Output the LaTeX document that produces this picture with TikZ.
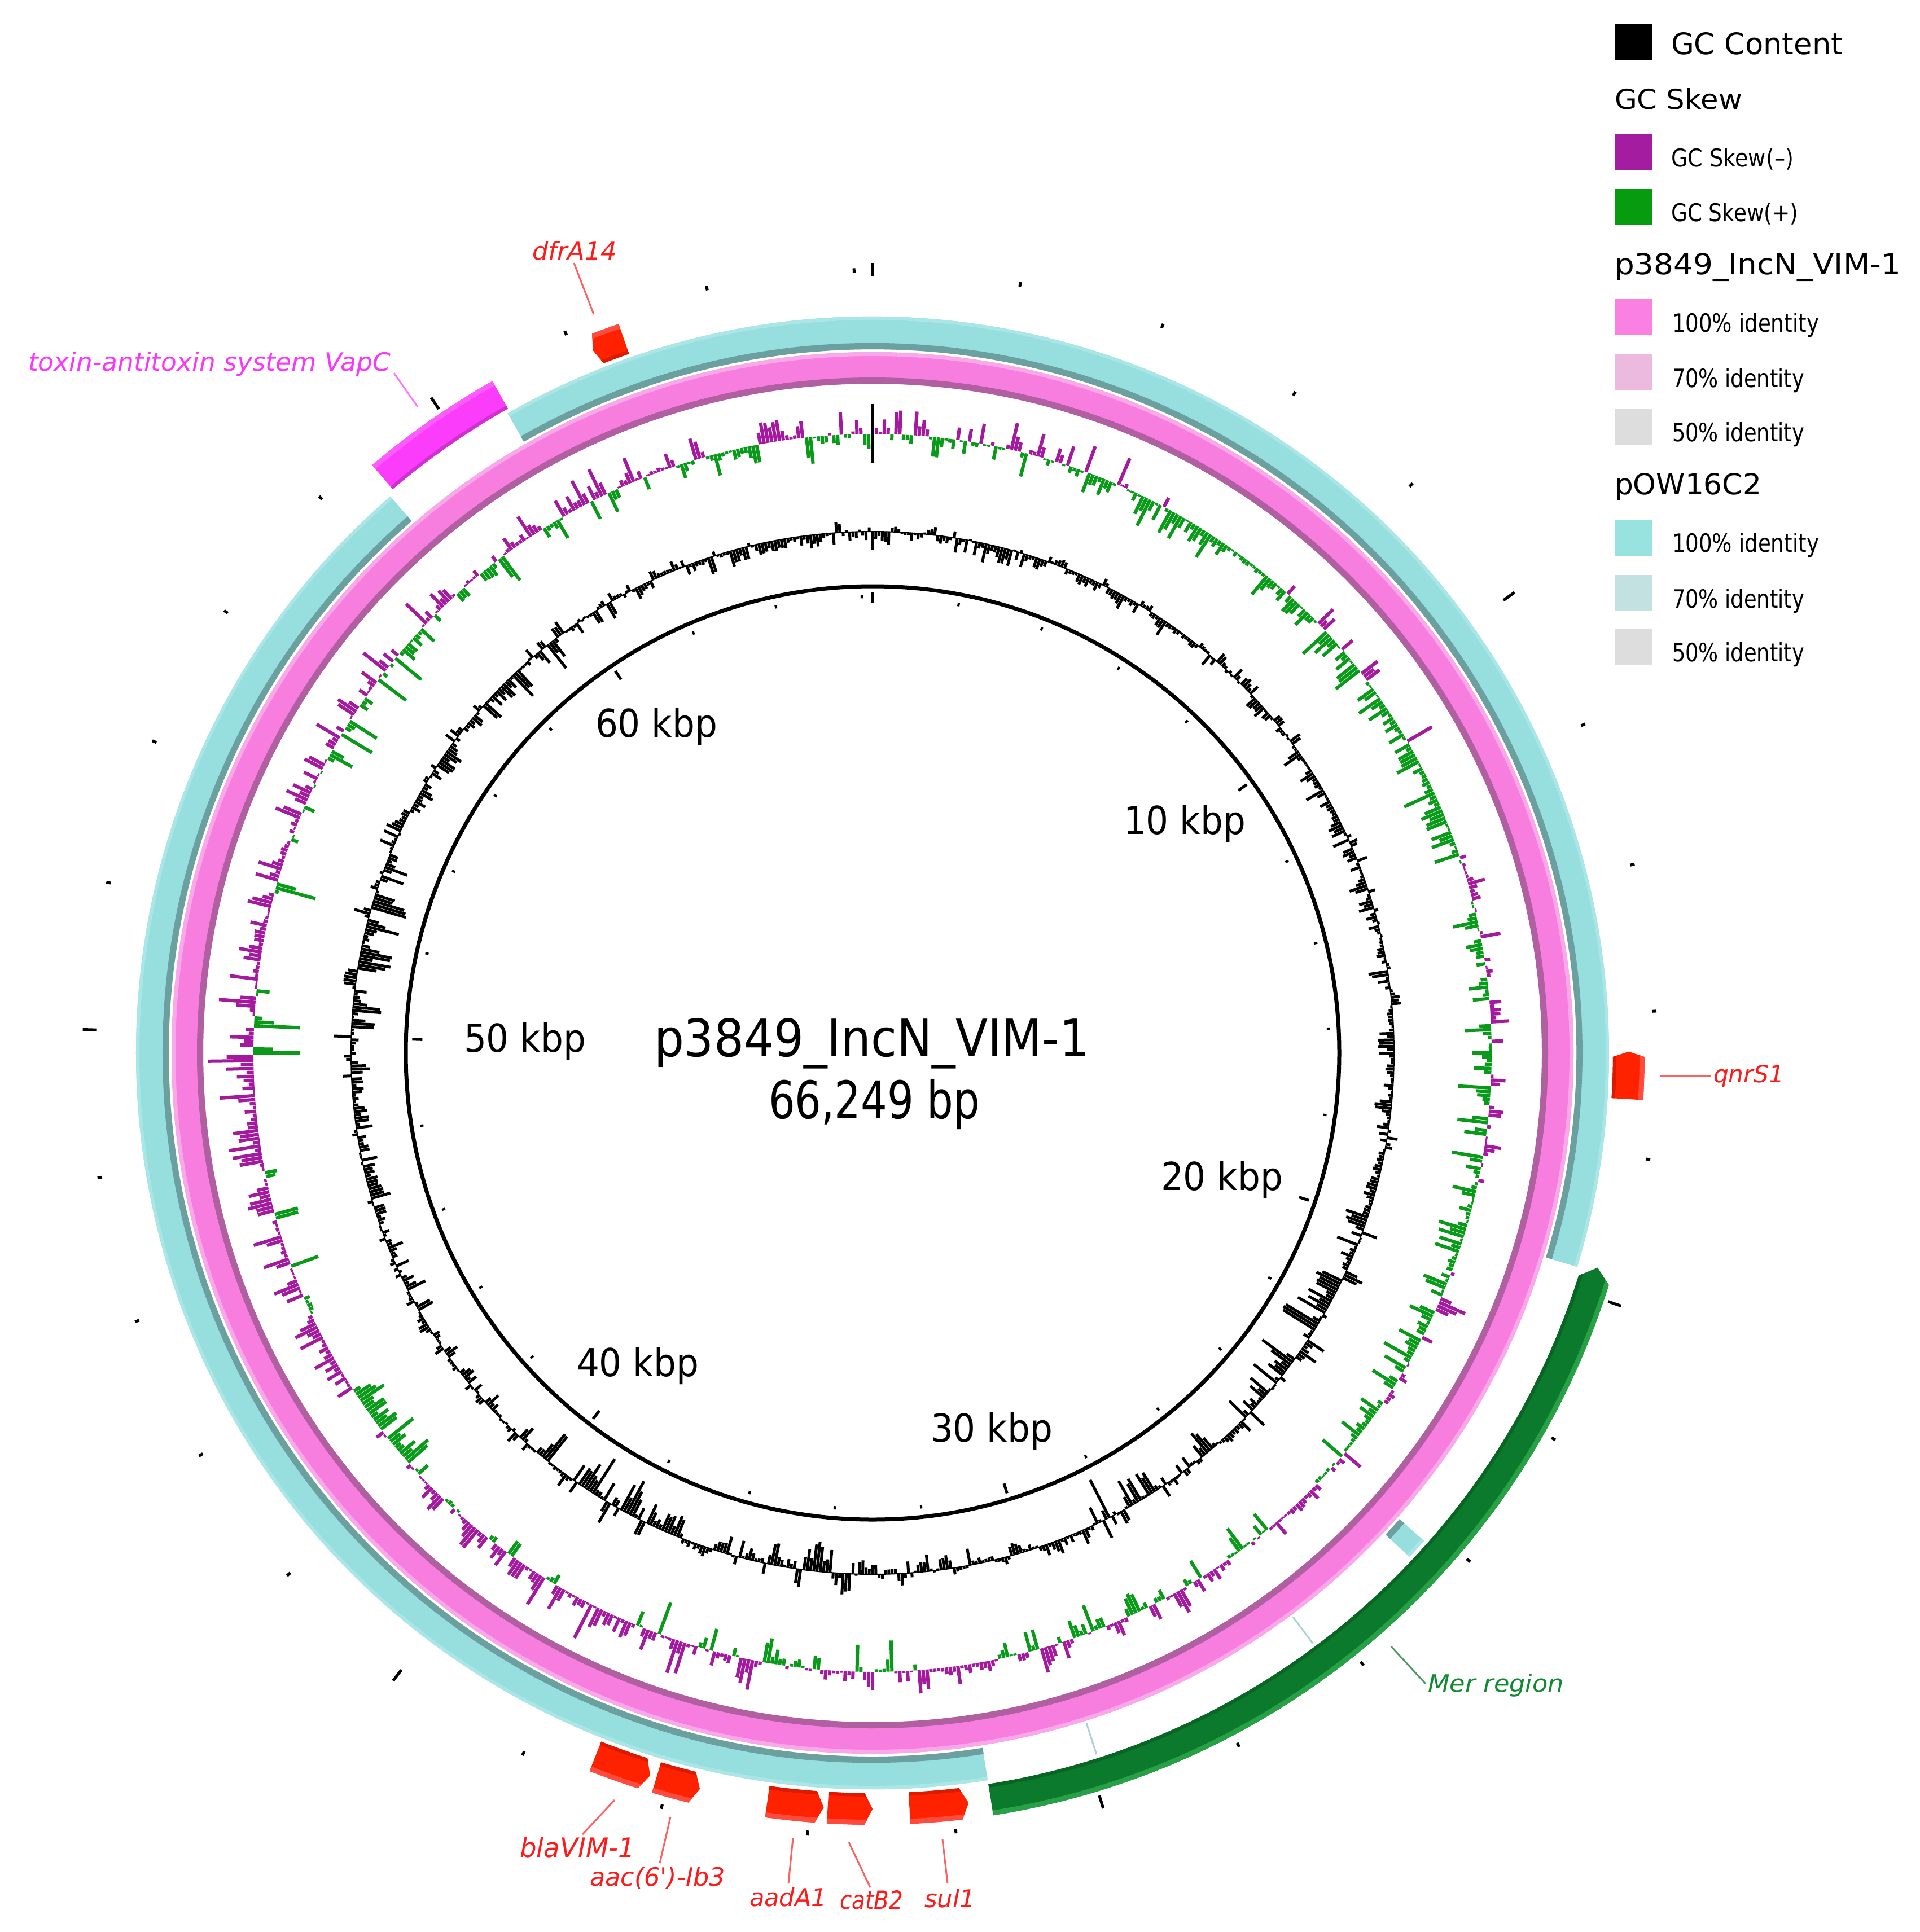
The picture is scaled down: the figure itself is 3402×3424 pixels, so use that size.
\documentclass[tikz,border=0pt]{standalone}
\usepackage{fontspec}
\setmainfont{DejaVu Sans}
\usepackage{graphicx}
\definecolor{cyanM}{HTML}{97DFDF}
\definecolor{cyanD}{HTML}{6C9FA0}
\definecolor{cyanL}{HTML}{ABE6E6}
\definecolor{cyanThin}{HTML}{A9D3D3}
\definecolor{pinkM}{HTML}{F77EDF}
\definecolor{pinkD}{HTML}{B05FA0}
\definecolor{pinkL}{HTML}{F9A8EA}
\definecolor{skewMag}{HTML}{A31A9E}
\definecolor{skewGrn}{HTML}{0A9A1A}
\definecolor{geneR}{HTML}{FF2200}
\definecolor{geneRL}{HTML}{FF4B3E}
\definecolor{geneRD}{HTML}{DD1A00}
\definecolor{merG}{HTML}{0B7A2C}
\definecolor{merGL}{HTML}{27A046}
\definecolor{merGD}{HTML}{086624}
\definecolor{toxM}{HTML}{FB3CFB}
\definecolor{toxML}{HTML}{FF5CFF}
\definecolor{toxMD}{HTML}{D030D0}
\definecolor{lblRed}{HTML}{FF1A1A}
\definecolor{lineRed}{HTML}{FF6060}
\definecolor{lblMag}{HTML}{FF33FF}
\definecolor{lineMag}{HTML}{FF77FF}
\definecolor{lblGrn}{HTML}{0E8A30}
\definecolor{lineGrn}{HTML}{4E9A66}
\definecolor{legMag}{HTML}{A41C9F}
\definecolor{legGrn}{HTML}{079B10}
\definecolor{legPink}{HTML}{FA80E1}
\definecolor{legPinkL}{HTML}{EDBADF}
\definecolor{legGray}{HTML}{DDDDDD}
\definecolor{legCyan}{HTML}{98E2E0}
\definecolor{legCyanL}{HTML}{C3E1E0}

\newcommand\fitt[3]{\resizebox{#1pt}{#2pt}{#3}}

% band between radii #1 (inner) and #2 (outer), clockwise angles #3 -> #4 from top
\newcommand\arcband[5]{%
  \fill[#5] ({90-(#3)}:#2pt) arc[start angle={90-(#3)}, end angle={90-(#4)}, radius=#2pt]
    -- ({90-(#4)}:#1pt) arc[start angle={90-(#4)}, end angle={90-(#3)}, radius=#1pt] -- cycle;}

\newcommand\cyanseg[2]{%
  \arcband{1247}{1305}{#1}{#2}{cyanM}%
  \arcband{1247}{1258}{#1}{#2}{cyanD}%
  \arcband{1299}{1305}{#1}{#2}{cyanL}}

% gene arrow: #1 tip angle (cw), #2 tail angle (cw), #3 tip length (deg), #4 main, #5 light, #6 dark
\newcommand\genebox[6]{%
  \begin{scope}
    \clip ({90-(#2)}:1312pt) -- ({90-(#2)}:1368pt)
      arc[start angle={90-(#2)}, end angle={90-(#1)-(#3)}, radius=1368pt]
      -- ({90-(#1)}:1340pt) -- ({90-(#1)-(#3)}:1312pt)
      arc[start angle={90-(#1)-(#3)}, end angle={90-(#2)}, radius=1312pt] -- cycle;
    \fill[#4] (0,0) circle[radius=1400pt];
    \fill[#5, even odd rule] (0,0) circle[radius=1400pt] circle[radius=1359pt];
    \fill[#6, even odd rule] (0,0) circle[radius=1318pt] circle[radius=1300pt];
  \end{scope}}

\begin{document}
\begin{tikzpicture}[x=1pt,y=1pt,
  lbl/.style={anchor=base west, inner sep=0pt, outer sep=0pt},
  legsq/.style={minimum width=66pt, minimum height=64pt, inner sep=0pt, draw=none},
  leader/.style={line width=3pt},
  skewmag/.style={skewMag, line width=6pt},
  skewgrn/.style={skewGrn, line width=6pt},
  gcbar/.style={black, line width=5pt},
  tickmark/.style={black, line width=5pt}]

\useasboundingbox (0,0) rectangle (3402,-3424);
\fill[white] (0,0) rectangle (3402,-3424);

\begin{scope}[shift={(1546,-1866)}]
  % ---------- GC content ----------
  \pgfmathsetseed{11}
  \draw[black, line width=2pt] (0,0) circle[radius=924pt];
  \gdef\gsgn{1}\gdef\gh{0}
  \foreach \i in {0,...,999}{%
    \pgfmathsetmacro\tq{\i*0.36}%
    \pgfmathsetmacro\tang{90-\tq}%
    \pgfmathsetmacro\amp{32+55*max(0,1-abs((\tq-125)/20))+45*max(0,1-abs((\tq-152)/9))+40*max(0,1-abs((\tq-183)/10))+50*max(0,1-abs((\tq-212)/13))+45*max(0,1-abs((\tq-282)/20))+35*max(0,1-abs((\tq-318)/8))}%
    \pgfmathsetmacro\ru{rnd}%
    \pgfmathsetmacro\rv{rnd}%
    \pgfmathsetmacro\rw{rnd}%
    \ifdim\rw pt<0.5pt
      \ifdim\ru pt<0.68pt \xdef\gsgn{-1}\else\xdef\gsgn{1}\fi
      \pgfmathsetmacro\hh{\amp*\rv^2}%
    \else
      \pgfmathsetmacro\hh{0.35*\gh+0.65*\amp*\rv^2}%
    \fi
    \xdef\gh{\hh}%
    \ifnum\gsgn<0
      \pgfmathsetmacro\rad{921-\hh}%
    \else
      \pgfmathsetmacro\rad{927+0.55*\hh}%
    \fi
    \draw[gcbar] (\tang:924pt) -- (\tang:\rad pt);
  }
  % ---------- GC skew ----------
  \gdef\gsgn{1}\gdef\gh{0}
  \foreach \i in {0,...,999}{%
    \pgfmathsetmacro\tq{\i*0.36}%
    \pgfmathsetmacro\tang{90-\tq}%
    \pgfmathsetmacro\pmag{0.5+0.25*cos(\tq-235)}%
    \pgfmathsetmacro\amp{50+35*max(0,1-abs((\tq-270)/40))+30*max(0,1-abs((\tq-200)/30))}%
    \pgfmathsetmacro\ru{rnd}%
    \pgfmathsetmacro\rv{rnd}%
    \pgfmathsetmacro\rw{rnd}%
    \ifdim\rw pt<0.5pt
      \ifdim\ru pt<\pmag pt \xdef\gsgn{1}\else\xdef\gsgn{-1}\fi
      \pgfmathsetmacro\hh{\amp*\rv^2.6}%
    \else
      \pgfmathsetmacro\hh{0.35*\gh+0.65*\amp*\rv^2.6}%
    \fi
    \xdef\gh{\hh}%
    \ifnum\gsgn>0
      \pgfmathsetmacro\rad{1100+\hh}%
      \draw[skewmag] (\tang:1097pt) -- (\tang:\rad pt);
    \else
      \pgfmathsetmacro\rad{1094-1.15*\hh}%
      \draw[skewgrn] (\tang:1097pt) -- (\tang:\rad pt);
    \fi
  }
  \draw[black, line width=6pt] (90:1045pt) -- (90:1150pt);

  % ---------- inner backbone circle ----------
  \draw[black, line width=7pt] (0,0) circle[radius=827pt];

  % ---------- pink ring (p3849_IncN_VIM-1) ----------
  \fill[pinkM, even odd rule] (0,0) circle[radius=1242pt] circle[radius=1186pt];
  \fill[pinkD, even odd rule] (0,0) circle[radius=1197pt] circle[radius=1186pt];
  \fill[pinkL, even odd rule] (0,0) circle[radius=1242pt] circle[radius=1235pt];

  % ---------- cyan ring (pOW16C2) ----------
  \cyanseg{330.3}{466.9}
  \cyanseg{171.0}{319.1}
  \cyanseg{131.5}{133.2}
  \draw[cyanThin, line width=3pt] ({90-143.3}:1247pt) -- ({90-143.3}:1305pt);
  \draw[cyanThin, line width=3pt] ({90-162.3}:1247pt) -- ({90-162.3}:1305pt);

  % ---------- genes ----------
  \genebox{197.1}{201.5}{0.6}{geneR}{geneRL}{geneRD}
  \genebox{193.2}{196.6}{0.6}{geneR}{geneRL}{geneRD}
  \genebox{183.7}{188.0}{0.6}{geneR}{geneRL}{geneRD}
  \genebox{180.0}{183.4}{0.6}{geneR}{geneRL}{geneRD}
  \genebox{172.7}{177.2}{0.6}{geneR}{geneRL}{geneRD}
  \genebox{89.9}{93.5}{0.4}{geneR}{geneRL}{geneRD}
  \genebox{338.3}{340.8}{0.4}{geneR}{geneRL}{geneRD}
  \genebox{106.5}{171.0}{1.0}{merG}{merGL}{merGD}
  \genebox{319.6}{330.5}{0}{toxM}{toxML}{toxMD}

  % ---------- ticks ----------
  \foreach \k in {0,...,33}{%
    \pgfmathsetmacro\tang{90-\k*10.86809}%
    \pgfmathtruncatemacro\mk{mod(\k,5)}%
    \ifnum\mk=0
      \draw[tickmark] (\tang:1376pt) -- (\tang:1400pt);
      \draw[tickmark] (\tang:798pt) -- (\tang:816pt);
    \else
      \draw[tickmark] (\tang:1383pt) -- (\tang:1391pt);
      \draw[tickmark, line width=4pt] (\tang:806pt) -- (\tang:812pt);
    \fi
  }
\end{scope}

% ---------- centre title ----------
\node[lbl] (title1) at (1159,-1872) {\fitt{771}{68}{p3849\_IncN\_VIM-1}};
\node[lbl] (title2) at (1362,-1982) {\fitt{374}{70}{66,249 bp}};

% ---------- kbp labels ----------
\node[lbl] (k10) at (1991,-1478) {\fitt{216}{52}{10 kbp}};
\node[lbl] (k20) at (2057,-2109) {\fitt{216}{52}{20 kbp}};
\node[lbl] (k30) at (1649,-2555) {\fitt{216}{52}{30 kbp}};
\node[lbl] (k40) at (1022,-2439) {\fitt{216}{52}{40 kbp}};
\node[lbl] (k50) at (822,-1864) {\fitt{216}{52}{50 kbp}};
\node[lbl] (k60) at (1055,-1306) {\fitt{216}{52}{60 kbp}};

% ---------- gene labels and leaders ----------
\node[lbl, text=lblMag] (tTox) at (50,-657) {\fitt{642}{34}{\itshape toxin-antitoxin system VapC}};
\coordinate (cToxA) at (698,-661); \coordinate (cToxB) at (740,-721);
\draw[leader, lineMag] (cToxA) -- (cToxB);

\node[lbl, text=lblRed] (tDfr) at (943,-460) {\fitt{150}{33}{\itshape dfrA14}};
\coordinate (cDfrA) at (1017,-466); \coordinate (cDfrB) at (1052,-557);
\draw[leader, lineRed] (cDfrA) -- (cDfrB);

\node[lbl, text=lblRed] (tQnr) at (3036,-1918) {\fitt{125}{31}{\itshape qnrS1}};
\coordinate (cQnrA) at (2942,-1906); \coordinate (cQnrB) at (3031,-1906);
\draw[leader, lineRed] (cQnrA) -- (cQnrB);

\node[lbl, text=lblRed] (tVim) at (921,-3291) {\fitt{204}{36}{\itshape blaVIM-1}};
\coordinate (cVimA) at (1089,-3190); \coordinate (cVimB) at (1032,-3251);
\draw[leader, lineRed] (cVimA) -- (cVimB);

\node[lbl, text=lblRed] (tAac) at (1045,-3342) {\fitt{240}{34}{\itshape aac(6\textquotesingle)-Ib3}};
\coordinate (cAacA) at (1188,-3220); \coordinate (cAacB) at (1169,-3302);
\draw[leader, lineRed] (cAacA) -- (cAacB);

\node[lbl, text=lblRed] (tAad) at (1328,-3378) {\fitt{137}{33}{\itshape aadA1}};
\coordinate (cAadA) at (1405,-3258); \coordinate (cAadB) at (1397,-3338);
\draw[leader, lineRed] (cAadA) -- (cAadB);

\node[lbl, text=lblRed] (tCat) at (1488,-3383) {\fitt{112}{33}{\itshape catB2}};
\coordinate (cCatA) at (1504,-3265); \coordinate (cCatB) at (1542,-3345);
\draw[leader, lineRed] (cCatA) -- (cCatB);

\node[lbl, text=lblRed] (tSul) at (1638,-3380) {\fitt{90}{33}{\itshape sul1}};
\coordinate (cSulA) at (1670,-3260); \coordinate (cSulB) at (1679,-3338);
\draw[leader, lineRed] (cSulA) -- (cSulB);

\node[lbl, text=lblGrn] (tMer) at (2530,-2998) {\fitt{241}{32}{\itshape Mer region}};
\coordinate (cMerA) at (2465,-2918); \coordinate (cMerB) at (2526,-2984);
\draw[leader, lineGrn] (cMerA) -- (cMerB);

% ---------- legend ----------
\node[legsq, fill=black] (sqGC) at (2894,-74) {};
\node[lbl] (tGC) at (2961,-96) {\fitt{304}{39}{GC Content}};
\node[lbl] (tSkew) at (2861,-193) {\fitt{226}{37}{GC Skew}};
\node[legsq, fill=legMag] (sqNeg) at (2894,-269) {};
\node[lbl] (tNeg) at (2961,-295) {\fitt{217}{33}{GC Skew(–)}};
\node[legsq, fill=legGrn] (sqPos) at (2894,-366.5) {};
\node[lbl] (tPos) at (2961,-392) {\fitt{225}{33}{GC Skew(+)}};
\node[lbl] (tP38) at (2861,-486) {\fitt{507}{38}{p3849\_IncN\_VIM-1}};
\node[legsq, fill=legPink] (sqP100) at (2894,-561.5) {};
\node[lbl] (tP100) at (2963,-588) {\fitt{260}{34}{100\% identity}};
\node[legsq, fill=legPinkL] (sqP70) at (2894,-659.5) {};
\node[lbl] (tP70) at (2963,-686) {\fitt{234}{34}{70\% identity}};
\node[legsq, fill=legGray] (sqP50) at (2894,-756.5) {};
\node[lbl] (tP50) at (2963,-782) {\fitt{234}{34}{50\% identity}};
\node[lbl] (tOW) at (2861,-876) {\fitt{260}{38}{pOW16C2}};
\node[legsq, fill=legCyan] (sqO100) at (2894,-952.5) {};
\node[lbl] (tO100) at (2963,-978) {\fitt{260}{34}{100\% identity}};
\node[legsq, fill=legCyanL] (sqO70) at (2894,-1050.5) {};
\node[lbl] (tO70) at (2963,-1077) {\fitt{234}{34}{70\% identity}};
\node[legsq, fill=legGray] (sqO50) at (2894,-1146.5) {};
\node[lbl] (tO50) at (2963,-1172) {\fitt{234}{34}{50\% identity}};
\end{tikzpicture}
\end{document}
